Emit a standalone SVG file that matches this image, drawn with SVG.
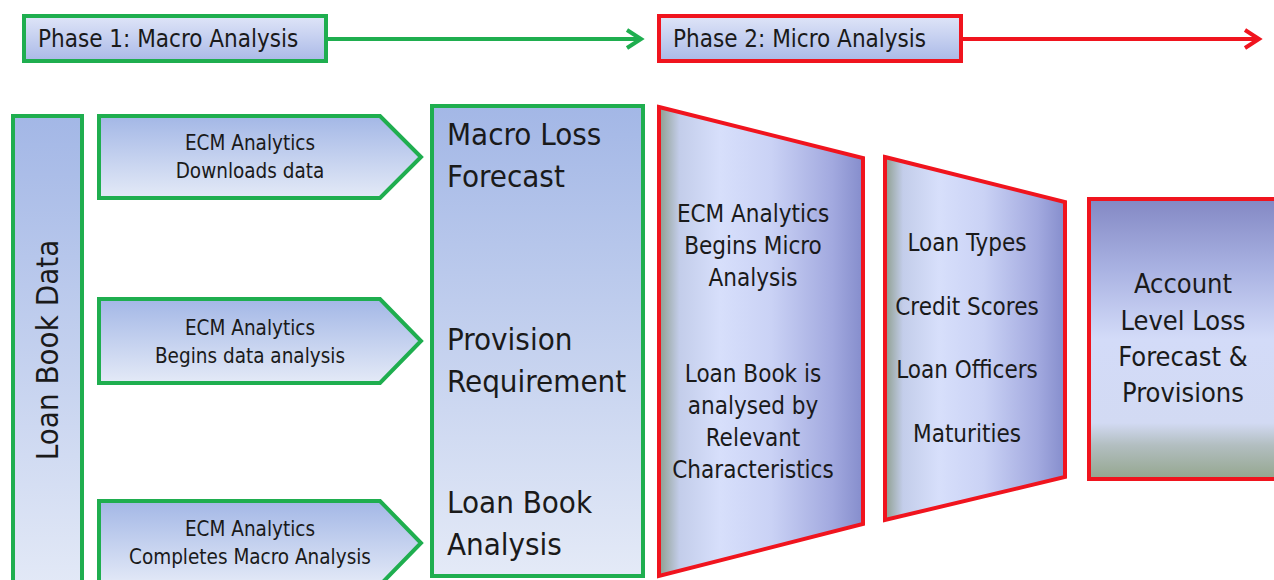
<svg xmlns="http://www.w3.org/2000/svg" width="1274" height="580" viewBox="0 0 1274 580">
  <defs>
    <linearGradient id="gBlue" x1="0" y1="0" x2="0" y2="1">
      <stop offset="0" stop-color="#a3b7e6"/>
      <stop offset="1" stop-color="#e4eaf7"/>
    </linearGradient>
    <linearGradient id="gPhase" x1="0" y1="0" x2="0" y2="1">
      <stop offset="0" stop-color="#dfe5f8"/>
      <stop offset="1" stop-color="#aab9e7"/>
    </linearGradient>
    <linearGradient id="gTrap" x1="0" y1="0" x2="1" y2="0">
      <stop offset="0" stop-color="#8e9e8e"/>
      <stop offset="0.1" stop-color="#c3cdea"/>
      <stop offset="0.3" stop-color="#d7dffb"/>
      <stop offset="0.55" stop-color="#cad2f5"/>
      <stop offset="0.85" stop-color="#a2a9df"/>
      <stop offset="1" stop-color="#858dcc"/>
    </linearGradient>
    <linearGradient id="gAcct" x1="0" y1="0" x2="0" y2="1">
      <stop offset="0" stop-color="#8388c4"/>
      <stop offset="0.25" stop-color="#a9b2e2"/>
      <stop offset="0.5" stop-color="#d3dbf8"/>
      <stop offset="0.8" stop-color="#d2daf3"/>
      <stop offset="0.88" stop-color="#b2bec0"/>
      <stop offset="1" stop-color="#94a68e"/>
    </linearGradient>
    <marker id="chevG" markerWidth="10" markerHeight="10" refX="8" refY="5" orient="auto" markerUnits="userSpaceOnUse" viewBox="0 0 10 10" overflow="visible">
      <path d="M-6,-4 L8,5 L-6,14" fill="none" stroke="#1fae4f" stroke-width="4"/>
    </marker>
    <marker id="chevR" markerWidth="10" markerHeight="10" refX="8" refY="5" orient="auto" markerUnits="userSpaceOnUse" viewBox="0 0 10 10" overflow="visible">
      <path d="M-6,-4 L8,5 L-6,14" fill="none" stroke="#f0141e" stroke-width="4"/>
    </marker>
  </defs>
  <style>
    text { font-family: "Liberation Sans Narrow", "DejaVu Sans Condensed", "Liberation Sans", sans-serif; fill: #1a1a1a; }
    .green { stroke: #1fae4f; stroke-width: 4; }
    .red { stroke: #f0141e; stroke-width: 4; }
    .phase { font-size: 24px; }
    .step { font-size: 20.5px; text-anchor: middle; }
    .big { font-size: 31px; }
    .mid { font-size: 24px; text-anchor: middle; }
    .acct { font-size: 27px; text-anchor: middle; }
  </style>
  <rect width="1274" height="580" fill="#ffffff"/>

  <!-- connectors -->
  <g id="connectors" fill="none">
    <line x1="326" y1="39" x2="641" y2="39" class="green" marker-end="url(#chevG)"/>
    <line x1="961" y1="39" x2="1259" y2="39" class="red" marker-end="url(#chevR)"/>
  </g>

  <!-- phase headers -->
  <g id="phase1">
    <rect x="24" y="16" width="302" height="45" fill="url(#gPhase)" class="green"/>
    <text x="38" y="47" class="phase">Phase 1: Macro Analysis</text>
  </g>
  <g id="phase2">
    <rect x="659" y="16" width="302" height="45" fill="url(#gPhase)" class="red"/>
    <text x="673" y="47" class="phase">Phase 2: Micro Analysis</text>
  </g>

  <!-- loan book data column -->
  <g id="loan-book-data">
    <rect x="13" y="116" width="69" height="480" fill="url(#gBlue)" class="green"/>
    <text transform="translate(58,350) rotate(-90)" class="big" text-anchor="middle">Loan Book Data</text>
  </g>

  <!-- macro steps -->
  <g id="step-download">
    <polygon points="99,116 380,116 421,157 380,198 99,198" fill="url(#gBlue)" class="green"/>
    <text x="250" y="150" class="step">ECM Analytics</text>
    <text x="250" y="178" class="step">Downloads data</text>
  </g>
  <g id="step-analysis">
    <polygon points="99,299 380,299 421,341 380,383 99,383" fill="url(#gBlue)" class="green"/>
    <text x="250" y="335" class="step">ECM Analytics</text>
    <text x="250" y="363" class="step">Begins data analysis</text>
  </g>
  <g id="step-complete">
    <polygon points="99,501 380,501 421,543 380,585 99,585" fill="url(#gBlue)" class="green"/>
    <text x="250" y="536" class="step">ECM Analytics</text>
    <text x="250" y="564" class="step">Completes Macro Analysis</text>
  </g>

  <!-- macro outputs -->
  <g id="macro-outputs">
    <rect x="432" y="106" width="211" height="470" fill="url(#gBlue)" class="green"/>
    <text x="447" y="145" class="big">Macro Loss</text>
    <text x="447" y="187" class="big">Forecast</text>
    <text x="447" y="350" class="big">Provision</text>
    <text x="447" y="392" class="big">Requirement</text>
    <text x="447" y="513" class="big">Loan Book</text>
    <text x="447" y="555" class="big">Analysis</text>
  </g>

  <!-- micro analysis funnel -->
  <g id="micro-begin">
    <polygon points="659,107 863,158 863,524 659,576" fill="url(#gTrap)" class="red"/>
    <text x="753" y="222" class="mid">ECM Analytics</text>
    <text x="753" y="254" class="mid">Begins Micro</text>
    <text x="753" y="286" class="mid">Analysis</text>
    <text x="753" y="382" class="mid">Loan Book is</text>
    <text x="753" y="414" class="mid">analysed by</text>
    <text x="753" y="446" class="mid">Relevant</text>
    <text x="753" y="478" class="mid">Characteristics</text>
  </g>
  <g id="characteristics">
    <polygon points="885,157 1065,202 1065,477 885,520" fill="url(#gTrap)" class="red"/>
    <text x="967" y="251" class="mid">Loan Types</text>
    <text x="967" y="315" class="mid">Credit Scores</text>
    <text x="967" y="378" class="mid">Loan Officers</text>
    <text x="967" y="442" class="mid">Maturities</text>
  </g>
  <g id="account-level">
    <rect x="1089" y="199" width="200" height="280" fill="url(#gAcct)" class="red"/>
    <text x="1183" y="293" class="acct">Account</text>
    <text x="1183" y="330" class="acct">Level Loss</text>
    <text x="1183" y="366" class="acct">Forecast &amp;</text>
    <text x="1183" y="402" class="acct">Provisions</text>
  </g>
</svg>
